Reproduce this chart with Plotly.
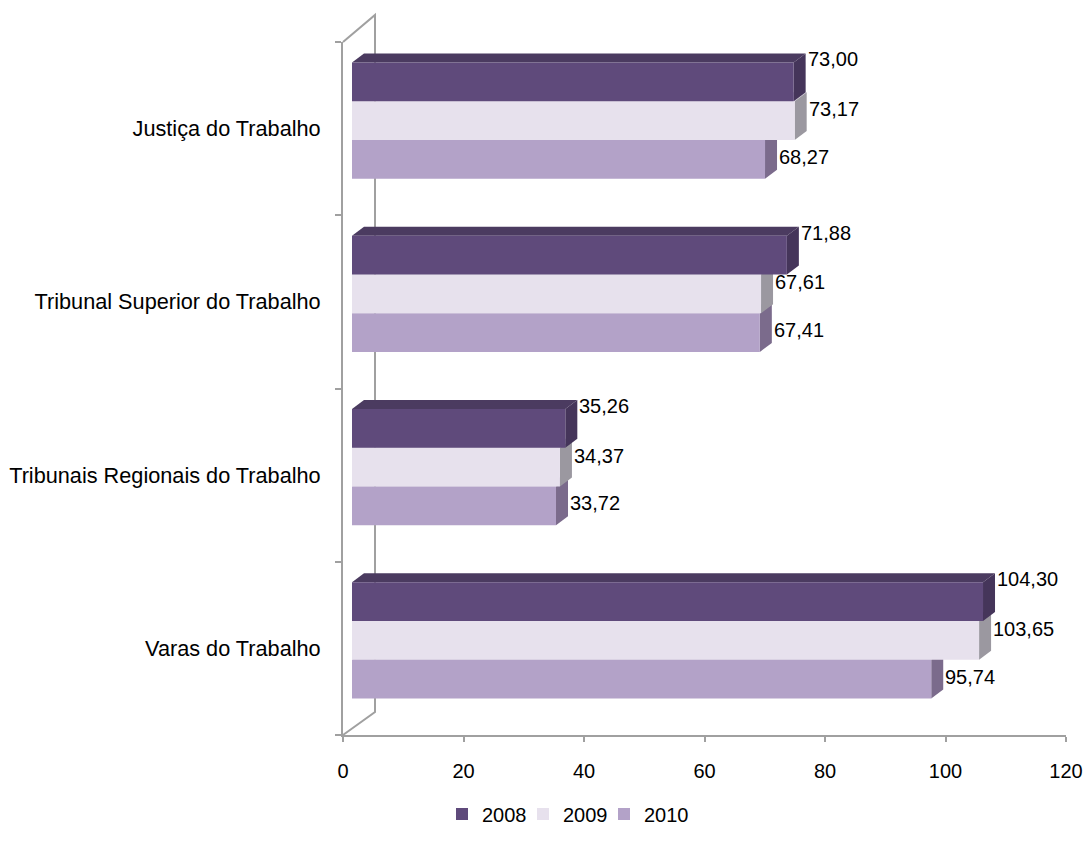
import plotly.graph_objects as go

# ---------------- data ----------------
categories = ["Varas do Trabalho", "Tribunais Regionais do Trabalho",
              "Tribunal Superior do Trabalho", "Justiça do Trabalho"]
years = ["2008", "2009", "2010"]
values_2008 = [104.30, 35.26, 71.88, 73.00]
values_2009 = [103.65, 34.37, 67.61, 73.17]
values_2010 = [95.74, 33.72, 67.41, 68.27]
x_ticks = [0, 20, 40, 60, 80, 100, 120]

series = {"2008": values_2008, "2009": values_2009, "2010": values_2010}

# ---------------- style / geometry ----------------
W, H = 1086, 850
AX_LEFT, AX_RIGHT = 343, 1066          # front x axis 0..120 in px
AX_TOP, AX_BOTTOM = 42, 735            # front y axis extent in px
BAR_LEFT, BAR_SCALE = 352, 6.05        # projected bar front-face origin / px per unit
BAR_SHIFT = 8                           # bars drawn slightly higher (3D projection)
DEPTH_PX = (12, 9)                      # bar depth offset in px
WALL_PX = (32, 27, 23)                  # back wall offset (dx, dy top, dy bottom)
XMAX = 120
BARGAP = 0.33
FONT = "Arial, 'Liberation Sans', sans-serif"
AXIS_COLOR = "#a0a0a0"

front = {"2008": "#5f4a7b", "2009": "#e7e1ed", "2010": "#b3a2c8"}
side = {"2008": "#45355a", "2009": "#9b98a0", "2010": "#7b6b8c"}
top = {"2008": "#4b3b60", "2009": "#cfc8d8", "2010": "#9c8cb2"}
label_yshift = {"2008": 18, "2009": 7, "2010": -2}
legend_rank = {"2008": 1, "2009": 2, "2010": 3}

x_dom = [AX_LEFT / W, AX_RIGHT / W]
y_dom = [1 - AX_BOTTOM / H, 1 - AX_TOP / H]
x2_dom = [BAR_LEFT / W, (BAR_LEFT + BAR_SCALE * XMAX) / W]
y2_dom = [y_dom[0] + BAR_SHIFT / H, y_dom[1] + BAR_SHIFT / H]

n = len(categories)
px_per_cat = (AX_BOTTOM - AX_TOP) / n
DX = DEPTH_PX[0] / BAR_SCALE
DY = DEPTH_PX[1] / px_per_cat
bw = (1 - BARGAP) / len(years)

fig = go.Figure()

# invisible trace to register the category axis
fig.add_trace(go.Scatter(x=[0] * n, y=categories, mode="markers",
                         marker=dict(opacity=0), showlegend=False,
                         hoverinfo="skip", xaxis="x", yaxis="y"))

shapes = []
# back wall lines (paper coordinates so they are not clipped)
px0, pyt, pyb = AX_LEFT / W, 1 - AX_TOP / H, 1 - AX_BOTTOM / H
pxw = (AX_LEFT + WALL_PX[0]) / W
shapes.append(dict(type="path", xref="paper", yref="paper", layer="below",
                   path=(f"M{px0},{pyt} L{pxw},{pyt + WALL_PX[1] / H} "
                         f"L{pxw},{pyb + WALL_PX[2] / H} L{px0},{pyb}"),
                   line=dict(color=AXIS_COLOR, width=2)))

annotations = []
order = ["2010", "2009", "2008"]   # bottom to top within each group
pos = list(range(n))
for j, yr in enumerate(order):
    vals = series[yr]
    fig.add_trace(go.Bar(
        x=vals, y=pos, orientation="h", name=yr, legendrank=legend_rank[yr],
        marker=dict(color=front[yr], line=dict(width=0)),
        xaxis="x2", yaxis="y2", hoverinfo="x+name"))
    off = (j - 1) * bw
    for i, v in enumerate(vals):
        yc = pos[i] + off
        y0, y1 = yc - bw / 2, yc + bw / 2
        # top face
        shapes.append(dict(type="path", xref="x2", yref="y2", layer="below",
                           path=f"M0,{y1} L{DX},{y1 + DY} L{v + DX},{y1 + DY} L{v},{y1} Z",
                           fillcolor=top[yr], line=dict(width=0)))
        # side face
        shapes.append(dict(type="path", xref="x2", yref="y2", layer="below",
                           path=f"M{v},{y0} L{v + DX},{y0 + DY} L{v + DX},{y1 + DY} L{v},{y1} Z",
                           fillcolor=side[yr], line=dict(width=0)))
        annotations.append(dict(
            x=v + DX, y=yc + DY / 2, xref="x2", yref="y2",
            text=f"{v:.2f}".replace(".", ","), showarrow=False,
            xanchor="left", yanchor="middle", xshift=0, yshift=label_yshift[yr],
            font=dict(family=FONT, size=20, color="#000000")))

# empty trailing legend slot so the last entry's text is not clipped
fig.add_trace(go.Scatter(x=[None], y=[None], mode="markers", name=" ",
                         legendrank=99,
                         marker=dict(color="rgba(0,0,0,0)", size=1,
                                     line=dict(width=0, color="rgba(0,0,0,0)")),
                         xaxis="x", yaxis="y", hoverinfo="skip"))

fig.update_layout(
    width=W, height=H,
    margin=dict(l=0, r=0, t=0, b=0, autoexpand=False),
    paper_bgcolor="white", plot_bgcolor="rgba(0,0,0,0)",
    barmode="group", bargap=BARGAP, bargroupgap=0,
    font=dict(family=FONT, size=20, color="#000000"),
    shapes=shapes, annotations=annotations,
    xaxis=dict(domain=x_dom, range=[0, XMAX], tickvals=x_ticks,
               ticks="outside", ticklen=5, tickcolor=AXIS_COLOR, tickwidth=2,
               showline=True, linecolor=AXIS_COLOR, linewidth=2,
               showgrid=False, zeroline=False, anchor="y", automargin=False,
               ticklabelstandoff=12, tickfont=dict(size=20)),
    yaxis=dict(domain=y_dom, type="category", categoryorder="array",
               categoryarray=categories, range=[-0.5, n - 0.5],
               tickson="boundaries", ticks="outside", ticklen=6,
               tickcolor=AXIS_COLOR, tickwidth=2,
               showline=True, linecolor=AXIS_COLOR, linewidth=2,
               showgrid=False, zeroline=False, anchor="x", automargin=False,
               ticklabelstandoff=16, tickfont=dict(size=21.7)),
    xaxis2=dict(domain=x2_dom, range=[0, XMAX], visible=False, anchor="y2"),
    yaxis2=dict(domain=y2_dom, range=[-0.5, n - 0.5], visible=False, anchor="x2"),
    legend=dict(orientation="h", x=442 / W, xanchor="left",
                y=1 - 814 / H, yanchor="middle", traceorder="normal",
                font=dict(size=20), itemwidth=30, entrywidth=36),
    showlegend=True,
)

fig.write_html("out.html")
